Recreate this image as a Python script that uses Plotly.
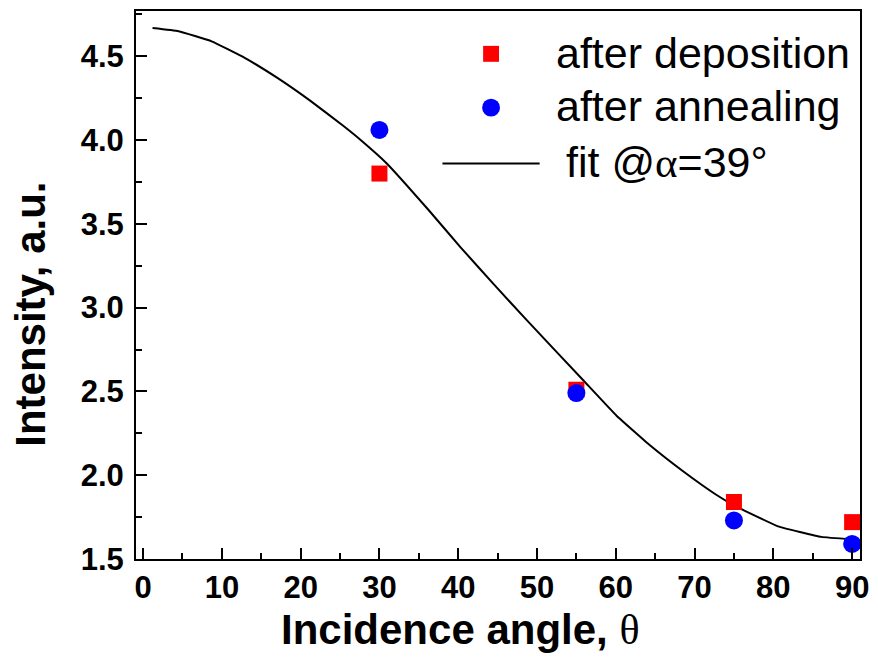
import plotly.graph_objects as go

# Measured intensities at each incidence angle
angles = [30, 55, 75, 90]
deposited = [3.80, 2.51, 1.84, 1.72]
annealed = [4.06, 2.49, 1.73, 1.59]

# Fitted intensity curve (alpha = 39 deg), sampled along the angle axis
fit_angle = [1.2, 4.5, 8.7, 12.9, 17.0, 21.2, 25.4, 27.8, 30.9, 36.1, 40.3, 44.5,
             48.7, 55.9, 60.1, 64.3, 68.5, 72.7, 75.2, 80.6, 86.1, 90.0]
fit_value = [4.668, 4.649, 4.589, 4.49, 4.372, 4.235, 4.085, 3.993, 3.862, 3.590, 3.36,
             3.14, 2.925, 2.565, 2.355, 2.18, 2.025, 1.885, 1.815, 1.695, 1.632, 1.617]

x_ticks = [0, 10, 20, 30, 40, 50, 60, 70, 80, 90]
y_ticks = [1.5, 2.0, 2.5, 3.0, 3.5, 4.0, 4.5]

FONT = "Liberation Sans, Arial, sans-serif"

fig = go.Figure()
fig.add_trace(go.Scatter(x=fit_angle, y=fit_value, mode="lines",
                         line=dict(color="black", width=2, shape="spline", smoothing=0.3),
                         showlegend=False))
fig.add_trace(go.Scatter(x=angles, y=deposited, mode="markers",
                         marker=dict(symbol="square", size=16, color="#ff0000"),
                         showlegend=False))
fig.add_trace(go.Scatter(x=angles, y=annealed, mode="markers",
                         marker=dict(symbol="circle", size=18, color="#0000ff"),
                         showlegend=False))

axis_common = dict(
    showline=True, linecolor="black", linewidth=2, mirror=True,
    ticks="inside", ticklen=11, tickwidth=2, tickcolor="black",
    showgrid=False, zeroline=False,
    tickfont=dict(family=FONT, size=31, color="black", weight="bold"),
)
fig.update_xaxes(range=[-0.9, 91], tickvals=x_ticks, ticktext=[str(v) for v in x_ticks],
                 minor=dict(dtick=5, tick0=0, ticks="inside", ticklen=6, tickwidth=2,
                            tickcolor="black", showgrid=False),
                 **axis_common)
fig.update_yaxes(range=[1.5, 4.77], tickvals=y_ticks, ticktext=[f"{v:.1f}" for v in y_ticks],
                 ticklabelstandoff=4,
                 minor=dict(dtick=0.25, tick0=1.5, ticks="inside", ticklen=6, tickwidth=2,
                            tickcolor="black", showgrid=False),
                 **axis_common)

W, H = 878, 666
L, R, T, B = 136, 12, 9, 107
pw, ph = W - L - R, H - T - B


def px_to_paper(x, y):
    return (x - L) / pw, (H - B - y) / ph


shapes = []
annotations = []

# Legend keys: red square, blue circle, black line
x0, y0 = px_to_paper(486, 44)
x1, y1 = px_to_paper(502, 60)
shapes.append(dict(type="rect", xref="paper", yref="paper", x0=x0, x1=x1, y0=y1, y1=y0,
                   fillcolor="#ff0000", line=dict(width=0)))
x0, y0 = px_to_paper(485, 97)
x1, y1 = px_to_paper(503, 115)
shapes.append(dict(type="circle", xref="paper", yref="paper", x0=x0, x1=x1, y0=y1, y1=y0,
                   fillcolor="#0000ff", line=dict(width=0)))
x0, y0 = px_to_paper(445, 162)
x1, _ = px_to_paper(543, 162)
shapes.append(dict(type="line", xref="paper", yref="paper", x0=x0, x1=x1, y0=y0, y1=y0,
                   line=dict(color="black", width=2)))

# Legend labels
legend_rows = [
    ("after deposition", 557, 51),
    ("after annealing", 557, 104),
    ("fit @<span style='font-family:Liberation Serif'>\u03b1</span>=39\u00b0", 568, 161),
]
for txt, xs, ypx in legend_rows:
    ax, ay = px_to_paper(xs, ypx)
    annotations.append(dict(text=txt, xref="paper", yref="paper", x=ax, y=ay,
                            xanchor="left", yanchor="middle", showarrow=False,
                            font=dict(family=FONT, size=43, color="black")))

# Axis titles
ax, ay = px_to_paper(463, 630)
annotations.append(dict(text="<b>Incidence angle, </b><span style='font-family:Liberation Serif'>\u03b8</span>",
                        xref="paper", yref="paper", x=ax, y=ay, xanchor="center",
                        yanchor="middle", showarrow=False,
                        font=dict(family=FONT, size=42, color="black")))
ax, ay = px_to_paper(30, 313)
annotations.append(dict(text="<b>Intensity, a.u.</b>", xref="paper", yref="paper",
                        x=ax, y=ay, xanchor="center", yanchor="middle", textangle=-90,
                        showarrow=False, font=dict(family=FONT, size=42, color="black")))

fig.update_layout(
    width=W, height=H, margin=dict(l=L, r=R, t=T, b=B),
    paper_bgcolor="white", plot_bgcolor="white",
    shapes=shapes, annotations=annotations, showlegend=False,
)

fig.write_html("out.html")
